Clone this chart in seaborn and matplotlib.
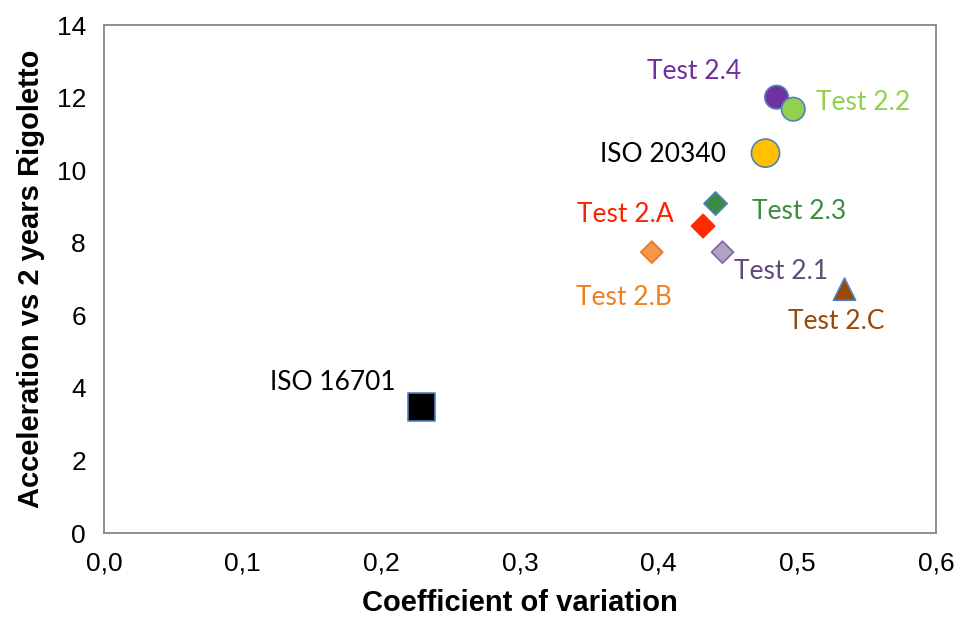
import numpy as np
import pandas as pd
import matplotlib
matplotlib.use("Agg")
import matplotlib.pyplot as plt
import seaborn as sns

# values
names = ["ISO 16701", "ISO 20340", "Test 2.4", "Test 2.2", "Test 2.3",
         "Test 2.A", "Test 2.B", "Test 2.1", "Test 2.C"]
coef_var = [0.229, 0.477, 0.485, 0.497, 0.441, 0.432, 0.395, 0.446, 0.534]
acceleration = [3.47, 10.47, 12.01, 11.68, 9.08, 8.46, 7.74, 7.74, 6.72]

x_ticks = [0.0, 0.1, 0.2, 0.3, 0.4, 0.5, 0.6]
x_tick_labels = ["0,0", "0,1", "0,2", "0,3", "0,4", "0,5", "0,6"]
y_ticks = [0, 2, 4, 6, 8, 10, 12, 14]

# styling per point
face = {"ISO 16701": "#000000", "ISO 20340": "#FFC000", "Test 2.4": "#7030A0",
        "Test 2.2": "#92D050", "Test 2.3": "#3A8A44", "Test 2.A": "#FF2A00",
        "Test 2.B": "#F79646", "Test 2.1": "#B3A2C7", "Test 2.C": "#984807"}
edge = {"ISO 16701": "#4F81BD", "ISO 20340": "#4F81BD", "Test 2.4": "#4F81BD",
        "Test 2.2": "#4F81BD", "Test 2.3": "#4F81BD", "Test 2.A": "#FF2A00",
        "Test 2.B": "#F0702A", "Test 2.1": "#8064A2", "Test 2.C": "#4F81BD"}
text_col = {"ISO 16701": "#000000", "ISO 20340": "#000000", "Test 2.4": "#7030A0",
            "Test 2.2": "#92D050", "Test 2.3": "#3B8E3F", "Test 2.A": "#FF2000",
            "Test 2.B": "#F07F1E", "Test 2.1": "#604A7B", "Test 2.C": "#984807"}
markers = {"ISO 16701": "s", "ISO 20340": "o", "Test 2.4": "o", "Test 2.2": "o",
           "Test 2.3": "D", "Test 2.A": "D", "Test 2.B": "D", "Test 2.1": "D",
           "Test 2.C": "^"}
sizes = {"ISO 16701": 390, "ISO 20340": 410, "Test 2.4": 285, "Test 2.2": 285,
         "Test 2.3": 140, "Test 2.A": 140, "Test 2.B": 125, "Test 2.1": 125,
         "Test 2.C": 255}
# label offsets from the point, in pixels
offsets = {"ISO 16701": (-89, 25), "ISO 20340": (-102, -1), "Test 2.4": (-82, 26),
           "Test 2.2": (70, 7), "Test 2.3": (84, -8), "Test 2.A": (-78, 12),
           "Test 2.B": (-28, -45), "Test 2.1": (59, -19), "Test 2.C": (-8, -32)}

df = pd.DataFrame({"name": names, "cv": coef_var, "acc": acceleration})

sns.set_style("white")
plt.rcParams['font.family'] = ['Liberation Sans', 'DejaVu Sans']

fig = plt.figure(figsize=(9.58, 6.22), dpi=100)
ax = fig.add_axes([0.1086, 0.143, 0.8685, 0.8168])

sns.scatterplot(data=df, x="cv", y="acc", hue="name", style="name", size="name",
                palette=face, markers=markers, sizes=sizes, legend=False,
                linewidth=1.2, ax=ax, zorder=3)
ax.collections[0].set_edgecolors([edge[n] for n in df["name"]])

for n, x, y in zip(df["name"], df["cv"], df["acc"]):
    dx, dy = offsets[n]
    ax.annotate(n, (x, y), xytext=(dx, dy), textcoords="offset pixels",
                ha="center", va="center", fontsize=19, color=text_col[n],
                family=["Lato", "DejaVu Sans"])

ax.set_xlim(0, 0.6)
ax.set_ylim(0, 14)
ax.set_xticks(x_ticks)
ax.set_xticklabels(x_tick_labels)
ax.set_yticks(y_ticks)
ax.tick_params(axis="both", direction="out", length=6, width=1.2,
               color="#868686", labelcolor="black", labelsize=19, pad=7)
for sp in ax.spines.values():
    sp.set_color("#868686")
    sp.set_linewidth(1.3)

ax.set_xlabel("Coefficient of variation", fontsize=21, fontweight="bold",
              color="black", labelpad=10)
ax.set_ylabel("Acceleration vs 2 years Rigoletto", fontsize=21, fontweight="bold",
              color="black", labelpad=8)

fig.savefig("out.png", dpi=100)
